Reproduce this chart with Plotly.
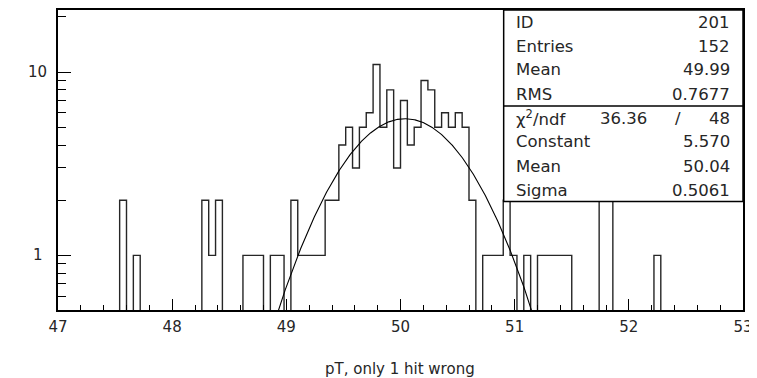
import numpy as np
import plotly.graph_objects as go

# ---- data -------------------------------------------------------------
x_min, x_max, n_bins = 47.0, 53.0, 100
counts = [0] * n_bins
bin_values = {
    9: 2, 11: 1,
    21: 2, 22: 1, 23: 2,
    27: 1, 28: 1, 29: 1,
    31: 1, 32: 1,
    34: 2, 35: 1, 36: 1, 37: 1, 38: 1,
    39: 2, 40: 2,
    41: 4, 42: 5, 43: 3, 44: 5, 45: 6, 46: 11, 47: 5, 48: 8, 49: 3,
    50: 7, 51: 4, 52: 5, 53: 9, 54: 8, 55: 5, 56: 6, 57: 5, 58: 6,
    59: 5, 60: 2,
    62: 1, 63: 1, 64: 1, 65: 2, 66: 1, 68: 1,
    70: 1, 71: 1, 72: 1, 73: 1, 74: 1,
    79: 2, 80: 2,
    87: 1,
}
for k, v in bin_values.items():
    counts[k] = v

fit_constant, fit_mean, fit_sigma = 5.570, 50.04, 0.5061

stats_labels = ["ID", "Entries", "Mean", "RMS"]
stats_values = ["201", "152", "49.99", "0.7677"]
fit_labels = ["Constant", "Mean", "Sigma"]
fit_values = ["5.570", "50.04", "0.5061"]
chi2_value, ndf_value = "36.36", "48"

x_ticks = [47, 48, 49, 50, 51, 52, 53]
y_ticks = [1, 10]
y_minor = [0.6, 0.7, 0.8, 0.9, 2, 3, 4, 5, 6, 7, 8, 9, 20]
x_title = "pT, only 1 hit wrong"

# ---- build ------------------------------------------------------------
OFF = 8                     # page body margin of the browser
W, H = 757 - OFF, 378 - OFF
# plot frame in screen pixels
FL, FR, FT, FB = 57.5, 743, 10, 310
ML, MR, MT, MB = FL - OFF, W - (FR - OFF), FT - OFF, H - (FB - OFF)
PW, PH = W - ML - MR, H - MT - MB

def dx(X):  # screen pixel -> plot-domain x
    return (X - OFF - ML) / PW

def dy(Y):  # screen pixel -> plot-domain y
    return (H - MB - (Y - OFF)) / PH

width = (x_max - x_min) / n_bins
edges = [x_min + i * width for i in range(n_bins + 1)]
floor = 0.05  # empty bins drop below the visible axis range
y_step = [floor] + [c if c > 0 else floor for c in counts] + [floor]
x_step = [edges[0]] + edges[:-1] + [edges[-1], edges[-1]]

xf = np.linspace(x_min, x_max, 1200)
yf = fit_constant * np.exp(-0.5 * ((xf - fit_mean) / fit_sigma) ** 2)

FONT = "DejaVu Sans"
TXT = "#262626"
fig = go.Figure()
fig.add_trace(go.Scatter(x=x_step, y=y_step, mode="lines", line_shape="hv",
                         line=dict(color="#262626", width=1.4), hoverinfo="skip"))
fig.add_trace(go.Scatter(x=xf, y=yf, mode="lines",
                         line=dict(color="black", width=1.1), hoverinfo="skip"))

fig.update_layout(
    width=W, height=H,
    margin=dict(l=ML, r=MR, t=MT, b=MB, pad=0, autoexpand=False),
    paper_bgcolor="white", plot_bgcolor="white",
    showlegend=False,
    font=dict(family=FONT, size=15, color=TXT),
)
fig.update_xaxes(
    range=[x_min, x_max], tickmode="array", tickvals=x_ticks,
    ticks="inside", ticklen=11, tickwidth=1, tickcolor="black",
    showline=True, linecolor="black", linewidth=2, mirror=True,
    showgrid=False, zeroline=False, ticklabelstandoff=2, automargin=False,
    tickfont=dict(family=FONT, size=15, color=TXT),
    minor=dict(dtick=0.2, tick0=47, ticks="inside", ticklen=5, tickcolor="black", showgrid=False),
)
fig.update_yaxes(
    type="log", range=[-0.298, 1.339], tickmode="array", tickvals=y_ticks,
    showticklabels=False,
    ticks="inside", ticklen=13, tickwidth=1, tickcolor="black",
    showline=True, linecolor="black", linewidth=1.5, mirror=True,
    showgrid=False, zeroline=False, automargin=False,
    minor=dict(tickvals=y_minor, ticks="inside", ticklen=8, tickcolor="black", showgrid=False),
)

# centred y tick labels (PAW style)
for v in y_ticks:
    fig.add_annotation(x=dx(37), xref="paper", y=np.log10(v), yref="y", text=str(v),
                       showarrow=False, xanchor="center", yanchor="middle",
                       font=dict(family=FONT, size=15, color=TXT))

# stats box
bx0, bx1, by0, by1, bdiv = 503.5, 743, 10, 201.5, 106
fig.add_shape(type="rect", xref="paper", yref="paper",
              x0=dx(bx0), x1=dx(bx1), y0=dy(by1), y1=dy(by0),
              fillcolor="white", line=dict(color="black", width=1.5), layer="above")
fig.add_shape(type="line", xref="paper", yref="paper",
              x0=dx(bx0), x1=dx(bx1), y0=dy(bdiv), y1=dy(bdiv),
              line=dict(color="black", width=1.5), layer="above")

def text(X, Y, s, anchor, size=16.5):
    fig.add_annotation(x=dx(X), y=dy(Y), xref="paper", yref="paper", text=s,
                       showarrow=False, xanchor=anchor, yanchor="middle",
                       font=dict(family=FONT, size=size, color=TXT))

row_y = [22, 46, 70, 94, 118, 142, 166, 190]
lx, rx = 514, 732
for i, (lab, val) in enumerate(zip(stats_labels, stats_values)):
    text(lx, row_y[i], lab, "left")
    text(rx, row_y[i], val, "right")
text(lx, row_y[4], "\u03c7<sup>2</sup>/ndf", "left")
text(649, row_y[4], chi2_value, "right")
text(678, row_y[4], "/", "center")
text(rx, row_y[4], ndf_value, "right")
for i, (lab, val) in enumerate(zip(fit_labels, fit_values)):
    text(lx, row_y[5 + i], lab, "left")
    text(rx, row_y[5 + i], val, "right")

text(400, 369, x_title, "center", size=15)

fig.write_html("out.html")
